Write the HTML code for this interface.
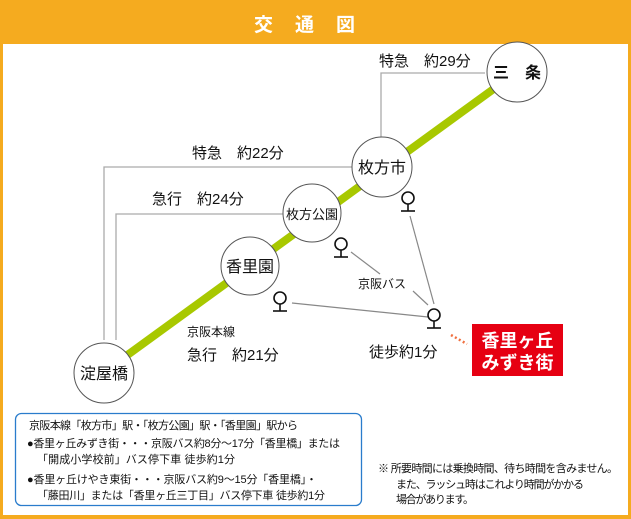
<!DOCTYPE html>
<html><head><meta charset="utf-8"><style>
html,body{margin:0;padding:0;background:#fff}
svg{display:block}
text{font-family:"Liberation Sans","Noto Sans CJK JP",sans-serif;fill:#111}
</style></head><body>
<svg width="631" height="519" viewBox="0 0 631 519" xmlns="http://www.w3.org/2000/svg">
<rect x="0" y="0" width="631" height="519" fill="#f5ab1f"/>
<rect x="3" y="44" width="625" height="471" fill="#fff"/>
<text x="315.5" y="31" text-anchor="middle" font-size="19" font-weight="bold" style="fill:#fff" letter-spacing="22">交通図</text>
<g stroke="#aaa" stroke-width="1.3" fill="none">
<polyline points="381,137 381,73 485,73"/>
<polyline points="104,340 104,167 352,167"/>
<polyline points="116,340 116,214 283,214"/>
</g>
<line x1="104" y1="372" x2="517" y2="72" stroke="#a8c800" stroke-width="8"/>
<g fill="#fff" stroke="#555" stroke-width="1">
<circle cx="517" cy="72" r="30"/>
<circle cx="382" cy="167" r="30"/>
<circle cx="312" cy="213" r="29"/>
<circle cx="250" cy="266" r="29"/>
<circle cx="104" cy="373" r="30"/>
</g>
<g font-size="16" text-anchor="middle">
<text x="517" y="78" font-weight="bold">三　条</text>
<text x="382" y="173">枚方市</text>
<text x="312" y="219" font-size="13">枚方公園</text>
<text x="250" y="272">香里園</text>
<text x="104" y="379">淀屋橋</text>
</g>
<g stroke="#888" stroke-width="1.2">
<line x1="410" y1="216" x2="434" y2="304"/>
<line x1="351" y1="252" x2="380" y2="274"/>
<line x1="413" y1="291" x2="428" y2="305"/>
<line x1="292" y1="303" x2="428" y2="317"/>
</g>
<g stroke="#111" stroke-width="1.6" fill="#fff">
<g transform="translate(408,198)"><circle cx="0" cy="0" r="6"/><line x1="0" y1="6" x2="0" y2="13"/><line x1="-7" y1="13" x2="7" y2="13"/></g>
<g transform="translate(341,244)"><circle cx="0" cy="0" r="6"/><line x1="0" y1="6" x2="0" y2="13"/><line x1="-7" y1="13" x2="7" y2="13"/></g>
<g transform="translate(280,298)"><circle cx="0" cy="0" r="6"/><line x1="0" y1="6" x2="0" y2="13"/><line x1="-7" y1="13" x2="7" y2="13"/></g>
<g transform="translate(434,315)"><circle cx="0" cy="0" r="6"/><line x1="0" y1="6" x2="0" y2="13"/><line x1="-7" y1="13" x2="7" y2="13"/></g>
</g>
<line x1="451" y1="335" x2="467" y2="344" stroke="#f07040" stroke-width="2.5" stroke-dasharray="2,2.5"/>
<rect x="472" y="324" width="91" height="52" fill="#e60012"/>
<g font-size="18" font-weight="bold" text-anchor="middle">
<text x="517.5" y="347" style="fill:#fff">香里ヶ丘</text>
<text x="517.5" y="369" style="fill:#fff">みずき街</text>
</g>
<g font-size="15">
<text x="379" y="66">特急　約29分</text>
<text x="192" y="158">特急　約22分</text>
<text x="152" y="204">急行　約24分</text>
<text x="187" y="360">急行　約21分</text>
<text x="369" y="357">徒歩約1分</text>
</g>
<text x="187" y="336" font-size="12">京阪本線</text>
<text x="358" y="288" font-size="12">京阪バス</text>
<rect x="15.5" y="413.5" width="346" height="92" rx="6" fill="#fff" stroke="#2a7ccc" stroke-width="1.3"/>
<g font-size="11">
<text x="29" y="429" textLength="269" lengthAdjust="spacing">京阪本線「枚方市」駅・「枚方公園」駅・「香里園」駅から</text>
<text x="27" y="447" textLength="313" lengthAdjust="spacing">●香里ヶ丘みずき街・・・京阪バス約8分～17分「香里橋」または</text>
<text x="37" y="463" textLength="198" lengthAdjust="spacing">「開成小学校前」バス停下車 徒歩約1分</text>
<text x="27" y="483" textLength="290" lengthAdjust="spacing">●香里ヶ丘けやき東街・・・京阪バス約9～15分「香里橋」・</text>
<text x="37" y="499" textLength="288" lengthAdjust="spacing">「藤田川」または「香里ヶ丘三丁目」バス停下車 徒歩約1分</text>
<text x="378" y="472" textLength="240" lengthAdjust="spacing">※ 所要時間には乗換時間、待ち時間を含みません。</text>
<text x="396" y="488" textLength="188" lengthAdjust="spacing">また、ラッシュ時はこれより時間がかかる</text>
<text x="396" y="503" textLength="78" lengthAdjust="spacing">場合があります。</text>
</g>
</svg>
</body></html>
